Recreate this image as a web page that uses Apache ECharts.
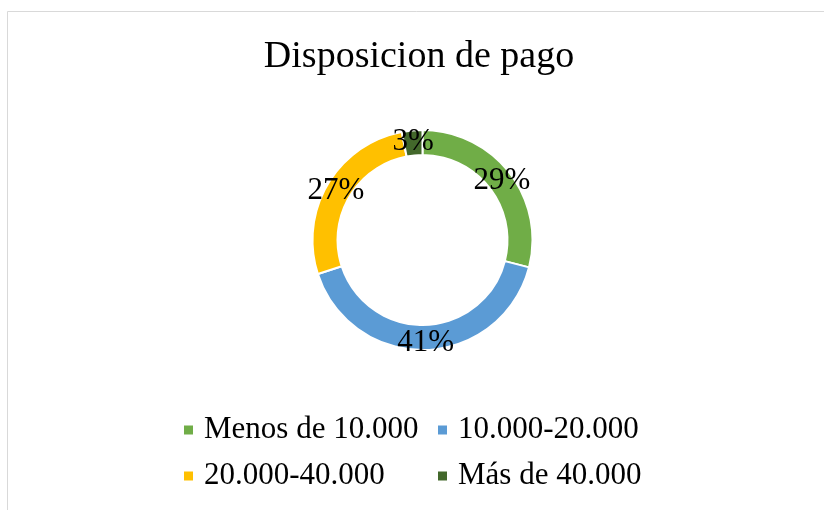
<!DOCTYPE html>
<html>
<head>
<meta charset="utf-8">
<script src="https://cdn.jsdelivr.net/npm/echarts@6/dist/echarts.min.js"></script>
<style>
  html, body { margin: 0; padding: 0; background: #fff; }
  #container { width: 824px; height: 510px; }
</style>
</head>
<body>
<div id="container"></div>
<script>
var categories = ['Menos de 10.000', '10.000-20.000', '20.000-40.000', 'Más de 40.000'];
var percents = [29, 41, 27, 3];
var colors = ['#70AD47', '#5B9BD5', '#FFC000', '#43682B'];

var serif = '"Liberation Serif", "Times New Roman", serif';

var myChart = echarts.init(document.getElementById('container'), null, { renderer: 'canvas' });

var pieData = categories.map(function (name, i) {
    return { name: name, value: percents[i], itemStyle: { color: colors[i] } };
});

var option = {
    backgroundColor: '#fff',
    animation: false,
    // chart frame (only top and left edge visible in the picture)
    graphic: [{
        type: 'rect',
        shape: { x: 7.5, y: 11.5, width: 900, height: 600 },
        style: { fill: 'none', stroke: '#d9d9d9', lineWidth: 1 },
        silent: true
    }],
    title: {
        text: 'Disposicion de pago',
        left: 419,
        top: 38,
        padding: 0,
        textAlign: 'center',
        textStyle: { fontFamily: serif, fontSize: 38, fontWeight: 'normal', color: '#000' }
    },
    legend: {
        data: categories,
        left: 182,
        top: 413,
        width: 500,
        padding: 0,
        orient: 'horizontal',
        itemWidth: 11,
        itemHeight: 11,
        itemGap: 12,
        icon: 'rect',
        selectedMode: false,
        textStyle: {
            fontFamily: serif,
            fontSize: 31,
            color: '#000',
            width: 220,
            lineHeight: 34,
            padding: [0, 0, 0, 5]
        }
    },
    series: [{
        type: 'pie',
        center: [422.5, 240],
        radius: [85, 110],
        startAngle: 90,
        clockwise: true,
        avoidLabelOverlap: false,
        itemStyle: { borderColor: '#fff', borderWidth: 2 },
        label: {
            show: true,
            position: 'inside',
            formatter: '{c}%',
            fontFamily: serif,
            fontSize: 31,
            color: '#000',
            textBorderWidth: 0,
            offset: [0, 2]
        },
        labelLine: { show: false },
        emphasis: { disabled: true },
        data: pieData
    }]
};

myChart.setOption(option);
</script>
</body>
</html>
